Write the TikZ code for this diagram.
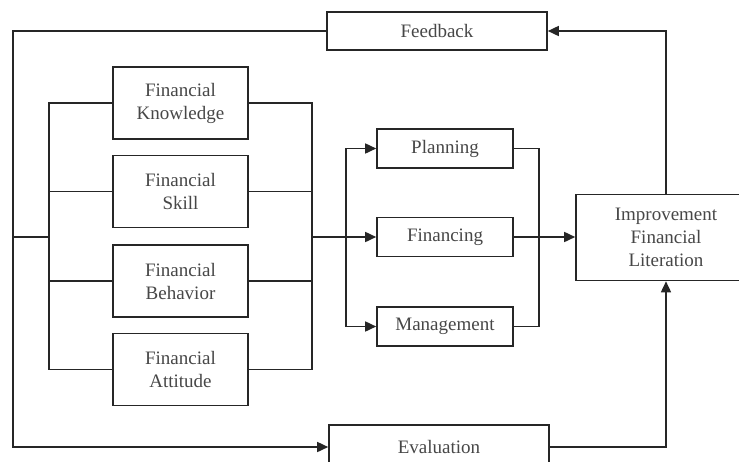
\documentclass[tikz,border=0pt]{standalone}
\usepackage{fontspec}
\setmainfont{Liberation Serif}
\usetikzlibrary{arrows.meta}
\begin{document}
\begin{tikzpicture}[x=1pt,y=-1pt,
  box/.style={draw=black!85,line width=1.6pt,fill=white,inner sep=0pt,align=center,
    text=black!72,font=\fontsize{19}{23}\selectfont},
  big/.style={box,minimum width=135pt,minimum height=72pt},
  mid/.style={box,minimum width=136pt,minimum height=39pt},
  wide/.style={box,minimum width=220pt,minimum height=38pt},
  conn/.style={draw=black!85,line width=1.6pt},
  arr/.style={conn,-{Triangle[length=11pt,width=10pt]}}]
\useasboundingbox (0,0) rectangle (739,461);
\clip (0,0) rectangle (739,461);
% boxes
\node[wide] (fb) at (437,31) {Feedback};
\node[wide,minimum height=44pt] (ev) at (439,447) {Evaluation};
\node[big] (kn) at (180.5,103) {Financial\\Knowledge};
\node[big] (sk) at (180.5,191.5) {Financial\\Skill};
\node[big] (be) at (180.5,281) {Financial\\Behavior};
\node[big] (at) at (180.5,369.5) {Financial\\Attitude};
\node[mid] (pl) at (445,148.5) {Planning};
\node[mid] (fi) at (445,237) {Financing};
\node[mid] (ma) at (445,326.5) {Management};
\node[box,minimum width=180pt,minimum height=86pt] (im) at (666,237.5) {Improvement\\Financial\\Literation};
% bus coordinates
\coordinate (lout) at (13,237);
\coordinate (lbus) at (49,237);
\coordinate (rbus) at (312,237);
\coordinate (mbus) at (346,237);
\coordinate (rmbus) at (539,237);
\coordinate (corner) at (13,31);
% feedback loop
\draw[arr] (fb.west) -- (corner) |- (ev.west);
\draw[conn] (lout) -- (lbus);
% left bus
\draw[conn] (kn.west) -| (lbus |- at.west) -- (at.west);
\draw[conn] (sk.west) -- (sk.west -| lbus);
\draw[conn] (be.west) -- (be.west -| lbus);
% right bus
\draw[conn] (kn.east) -| (rbus |- at.east) -- (at.east);
\draw[conn] (sk.east) -- (sk.east -| rbus);
\draw[conn] (be.east) -- (be.east -| rbus);
\draw[arr] (rbus) -- (fi.west);
% middle bus
\draw[arr] (mbus) |- (pl.west);
\draw[arr] (mbus) |- (ma.west);
\draw[conn] (pl.east) -| (rmbus |- ma.east) -- (ma.east);
\draw[arr] (fi.east) -- (im.west |- fi.east);
% improvement links
\draw[arr] (im.north) |- (fb.east);
\draw[arr] (ev.east) -| (im.south);
\end{tikzpicture}
\end{document}
